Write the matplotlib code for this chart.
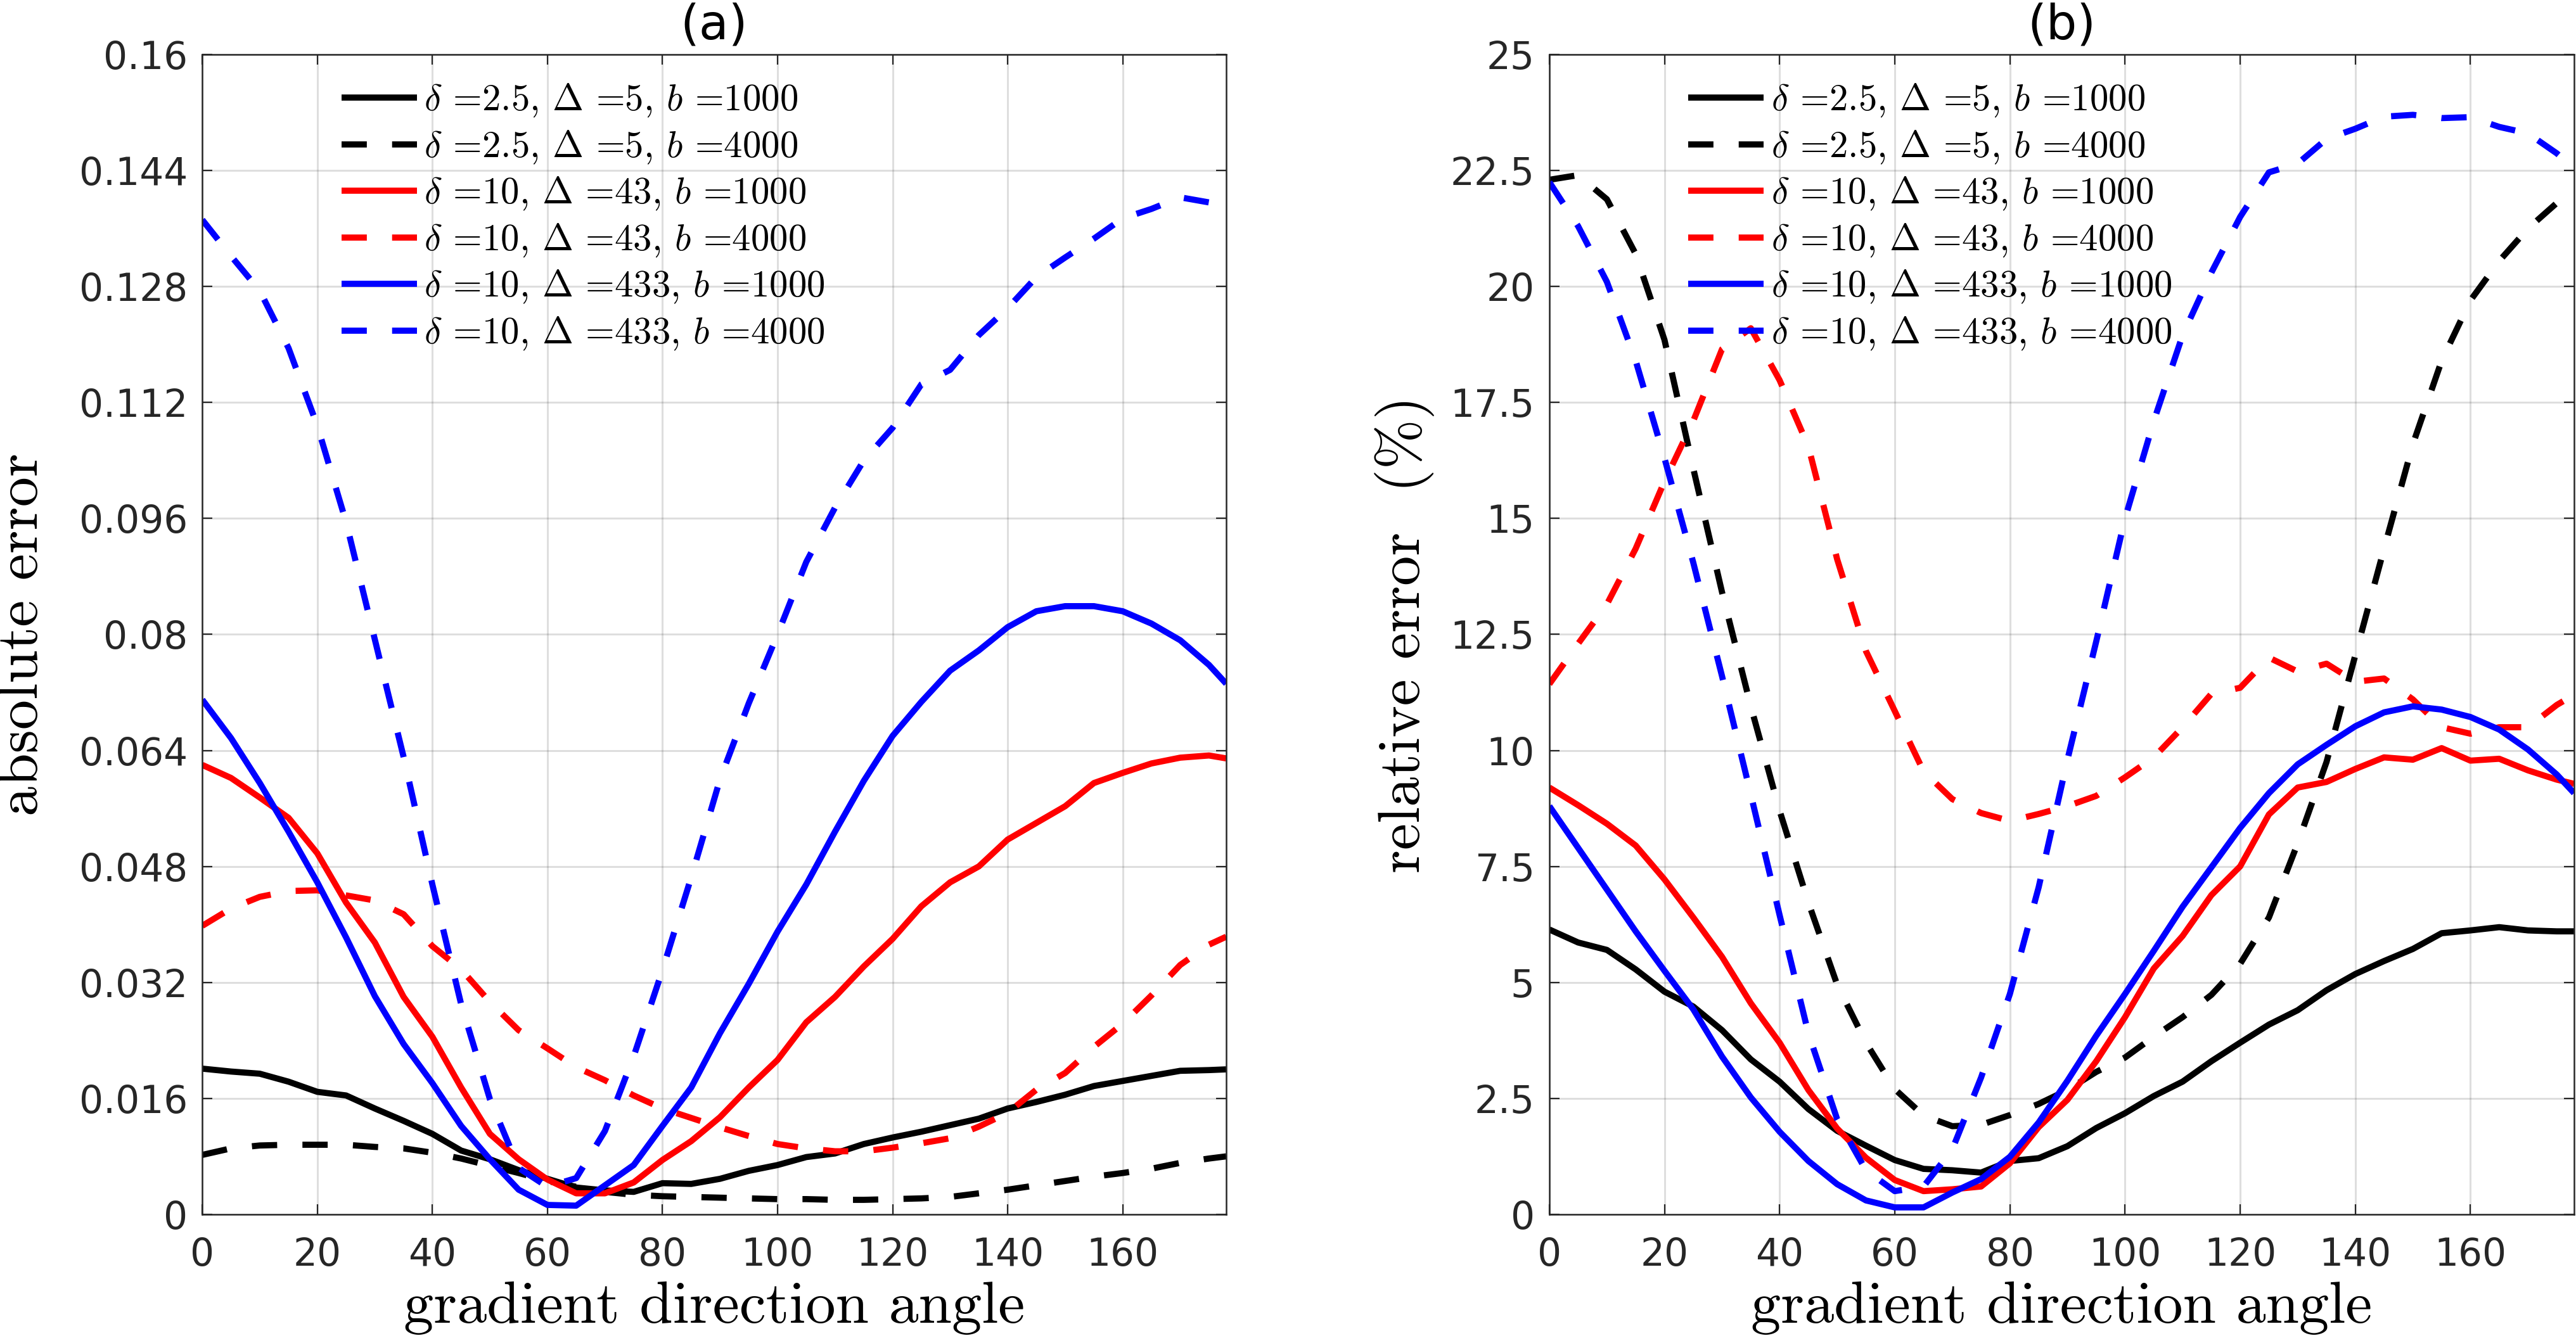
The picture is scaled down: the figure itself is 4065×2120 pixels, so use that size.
import matplotlib
matplotlib.use("Agg")
import matplotlib.pyplot as plt

plt.rcParams['mathtext.fontset'] = 'cm'
plt.rcParams['font.family'] = ['DejaVu Sans']

# ---------------- data ----------------
angles = [0, 5, 10, 15, 20, 25, 30, 35, 40, 45, 50, 55, 60, 65, 70, 75, 80, 85, 90,
          95, 100, 105, 110, 115, 120, 125, 130, 135, 140, 145, 150, 155, 160, 165,
          170, 175, 178]

labels = [r'$\delta$ =2.5, $\Delta$ =5, $b$ =1000',
          r'$\delta$ =2.5, $\Delta$ =5, $b$ =4000',
          r'$\delta$ =10, $\Delta$ =43, $b$ =1000',
          r'$\delta$ =10, $\Delta$ =43, $b$ =4000',
          r'$\delta$ =10, $\Delta$ =433, $b$ =1000',
          r'$\delta$ =10, $\Delta$ =433, $b$ =4000']

# panel (a): absolute error
abs_d25_b1000 = [0.0201, 0.0197, 0.0194, 0.0183, 0.0169, 0.0164, 0.0146, 0.0129, 0.0111,
                 0.0088, 0.0076, 0.0061, 0.0049, 0.0037, 0.0033, 0.0031, 0.0043, 0.0042,
                 0.0049, 0.0060, 0.0068, 0.0079, 0.0084, 0.0097, 0.0106, 0.0114, 0.0123,
                 0.0132, 0.0146, 0.0155, 0.0165, 0.0177, 0.0184, 0.0191, 0.0198, 0.0199,
                 0.0200]
abs_d25_b4000 = [0.0082, 0.0091, 0.0095, 0.0096, 0.0096, 0.0096, 0.0093, 0.0091, 0.0085,
                 0.0077, 0.0067, 0.0057, 0.0046, 0.0038, 0.0031, 0.0027, 0.0025, 0.0024,
                 0.0023, 0.0022, 0.0021, 0.0021, 0.0020, 0.0020, 0.0021, 0.0022, 0.0024,
                 0.0029, 0.0034, 0.0040, 0.0046, 0.0052, 0.0057, 0.0063, 0.0071, 0.0077,
                 0.0080]
abs_d10_D43_b1000 = [0.0620, 0.0602, 0.0575, 0.0547, 0.0498, 0.0430, 0.0375, 0.0300, 0.0245,
                     0.0175, 0.0111, 0.0076, 0.0048, 0.0029, 0.0029, 0.0044, 0.0075, 0.0101,
                     0.0134, 0.0175, 0.0213, 0.0265, 0.0300, 0.0342, 0.0380, 0.0425, 0.0458,
                     0.0480, 0.0517, 0.0540, 0.0563, 0.0595, 0.0609, 0.0622, 0.0630, 0.0633,
                     0.0629]
abs_d10_D43_b4000 = [0.0398, 0.0422, 0.0438, 0.0446, 0.0447, 0.0440, 0.0433, 0.0414, 0.0370,
                     0.0338, 0.0293, 0.0254, 0.0229, 0.0203, 0.0185, 0.0164, 0.0146, 0.0133,
                     0.0120, 0.0108, 0.0097, 0.0091, 0.0087, 0.0087, 0.0092, 0.0098, 0.0105,
                     0.0121, 0.0140, 0.0172, 0.0195, 0.0231, 0.0263, 0.0302, 0.0344, 0.0372,
                     0.0383]
abs_d10_D433_b1000 = [0.0710, 0.0657, 0.0595, 0.0528, 0.0458, 0.0382, 0.0301, 0.0235, 0.0181,
                      0.0122, 0.0076, 0.0034, 0.0013, 0.0012, 0.0040, 0.0068, 0.0122, 0.0175,
                      0.0250, 0.0318, 0.0390, 0.0455, 0.0528, 0.0598, 0.0660, 0.0707, 0.0750,
                      0.0778, 0.0810, 0.0832, 0.0839, 0.0839, 0.0832, 0.0815, 0.0792, 0.0758,
                      0.0732]
abs_d10_D433_b4000 = [0.1372, 0.1322, 0.1274, 0.1195, 0.1088, 0.0955, 0.0793, 0.0631, 0.0455,
                      0.0290, 0.0159, 0.0064, 0.0038, 0.0050, 0.0115, 0.0218, 0.0337, 0.0465,
                      0.0600, 0.0705, 0.0800, 0.0900, 0.0975, 0.1040, 0.1085, 0.1145, 0.1165,
                      0.1213, 0.1250, 0.1293, 0.1320, 0.1346, 0.1374, 0.1387, 0.1403, 0.1396,
                      0.1389]

# panel (b): relative error (%)
rel_d25_b1000 = [6.14, 5.86, 5.70, 5.28, 4.80, 4.48, 3.97, 3.34, 2.86, 2.27, 1.80, 1.48,
                 1.17, 0.98, 0.95, 0.90, 1.15, 1.21, 1.47, 1.86, 2.18, 2.55, 2.86, 3.30,
                 3.70, 4.09, 4.40, 4.83, 5.18, 5.46, 5.72, 6.06, 6.12, 6.19, 6.12, 6.10, 6.10]
rel_d25_b4000 = [22.30, 22.40, 21.88, 20.70, 18.85, 16.08, 13.41, 10.95, 8.70, 6.72, 4.95,
                 3.70, 2.70, 2.13, 1.90, 1.93, 2.14, 2.38, 2.68, 3.07, 3.38, 3.83, 4.25,
                 4.73, 5.40, 6.40, 8.00, 9.75, 12.05, 14.35, 16.60, 18.40, 19.70, 20.55,
                 21.25, 21.80, 22.10]
rel_d10_D43_b1000 = [9.20, 8.82, 8.42, 7.95, 7.22, 6.40, 5.55, 4.55, 3.70, 2.68, 1.85, 1.22,
                     0.74, 0.50, 0.54, 0.60, 1.10, 1.88, 2.47, 3.30, 4.25, 5.30, 6.00, 6.88,
                     7.50, 8.62, 9.20, 9.32, 9.60, 9.85, 9.80, 10.05, 9.78, 9.82, 9.57, 9.37,
                     9.28]
rel_d10_D43_b4000 = [11.43, 12.30, 13.15, 14.35, 15.80, 17.10, 18.65, 19.10, 17.98, 16.55,
                     14.12, 12.14, 10.85, 9.55, 8.95, 8.65, 8.48, 8.63, 8.80, 9.02, 9.42,
                     9.85, 10.50, 11.22, 11.35, 12.00, 11.70, 11.87, 11.48, 11.55, 11.10,
                     10.50, 10.36, 10.50, 10.50, 10.98, 11.20]
rel_d10_D433_b1000 = [8.80, 7.90, 7.00, 6.10, 5.25, 4.42, 3.40, 2.52, 1.78, 1.15, 0.65, 0.30,
                      0.15, 0.15, 0.47, 0.76, 1.24, 1.98, 2.88, 3.85, 4.75, 5.68, 6.63, 7.48,
                      8.33, 9.08, 9.70, 10.12, 10.52, 10.82, 10.95, 10.88, 10.72, 10.45,
                      10.02, 9.48, 9.08]
rel_d10_D433_b4000 = [22.25, 21.30, 20.10, 18.40, 16.30, 14.05, 11.60, 9.05, 6.45, 3.90,
                      2.05, 0.95, 0.50, 0.60, 1.40, 2.95, 4.75, 7.05, 9.80, 12.35, 15.00,
                      17.10, 18.95, 20.30, 21.50, 22.46, 22.65, 23.18, 23.40, 23.66, 23.70,
                      23.63, 23.65, 23.44, 23.30, 22.87, 22.55]

xticks = [0, 20, 40, 60, 80, 100, 120, 140, 160]
xticklabels = ['0', '20', '40', '60', '80', '100', '120', '140', '160']
yticks_a = [0, 0.016, 0.032, 0.048, 0.064, 0.08, 0.096, 0.112, 0.128, 0.144, 0.16]
yticklabels_a = ['0', '0.016', '0.032', '0.048', '0.064', '0.08', '0.096', '0.112',
                 '0.128', '0.144', '0.16']
yticks_b = [0, 2.5, 5, 7.5, 10, 12.5, 15, 17.5, 20, 22.5, 25]
yticklabels_b = ['0', '2.5', '5', '7.5', '10', '12.5', '15', '17.5', '20', '22.5', '25']

# ---------------- style ----------------
colors = ['#000000', '#000000', '#ff0000', '#ff0000', '#0000ff', '#0000ff']
solid = '-'
dashed = (0, (4.1, 4.1))
styles = [solid, dashed, solid, dashed, solid, dashed]
LW = 3.5
axcol = '#262626'

fig = plt.figure(figsize=(20.33, 10.6), dpi=200)
ax1 = fig.add_axes([0.0785, 0.0958, 0.3974, 0.8636])
ax2 = fig.add_axes([0.6013, 0.0958, 0.3977, 0.8636])

series_a = [abs_d25_b1000, abs_d25_b4000, abs_d10_D43_b1000, abs_d10_D43_b4000,
            abs_d10_D433_b1000, abs_d10_D433_b4000]
series_b = [rel_d25_b1000, rel_d25_b4000, rel_d10_D43_b1000, rel_d10_D43_b4000,
            rel_d10_D433_b1000, rel_d10_D433_b4000]


def style_axes(ax, yticks, yticklabels, ylim, ylabel, title, ylab_x):
    ax.set_xlim(0, 178)
    ax.set_ylim(*ylim)
    ax.set_xticks(xticks)
    ax.set_xticklabels(xticklabels)
    ax.set_yticks(yticks)
    ax.set_yticklabels(yticklabels)
    ax.grid(True, color=axcol, alpha=0.15, linewidth=1.1)
    ax.set_axisbelow(True)
    for s in ax.spines.values():
        s.set_color(axcol)
        s.set_linewidth(0.9)
    ax.tick_params(axis='both', which='major', direction='in', length=5.6, width=0.8,
                   color=axcol, labelcolor=axcol, labelsize=21.5,
                   top=True, right=True)
    ax.tick_params(axis='x', pad=12.5)
    ax.tick_params(axis='y', pad=8.3)
    for lab in ax.get_xticklabels() + ax.get_yticklabels():
        lab.set_fontfamily('DejaVu Sans')
    ax.set_xlabel('gradient direction angle', fontsize=34, fontfamily='cmr10',
                  color='#000000')
    ax.xaxis.set_label_coords(0.5, -0.058)
    ax.set_ylabel(ylabel, fontsize=34, fontfamily='cmr10', color='#000000')
    ax.yaxis.set_label_coords(ylab_x, 0.5)
    ax.set_title(title, fontsize=27.5, fontfamily='DejaVu Sans', pad=9, color='#000000')


for ax, series in ((ax1, series_a), (ax2, series_b)):
    for data, c, ls, lab in zip(series, colors, styles, labels):
        ax.plot(angles, data, color=c, linestyle=ls, linewidth=LW, label=lab,
                solid_capstyle='butt', dash_capstyle='butt', solid_joinstyle='round')
    leg = ax.legend(loc='upper left', bbox_to_anchor=(0.1358, 0.976), frameon=False,
                    prop={'family': 'cmr10', 'size': 21.2}, handlelength=2.02,
                    handletextpad=0.19, labelspacing=0.26, borderpad=0,
                    borderaxespad=0)

style_axes(ax1, yticks_a, yticklabels_a, (0, 0.16), 'absolute error', '(a)', -0.150)
style_axes(ax2, yticks_b, yticklabels_b, (0, 25), 'relative error  (%)', '(b)', -0.112)

fig.savefig('out.png', dpi=200, facecolor='white')
